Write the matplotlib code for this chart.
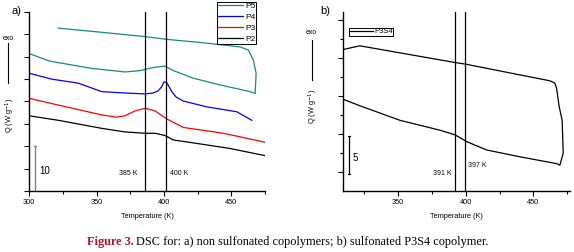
import matplotlib.pyplot as plt
from matplotlib.ticker import MultipleLocator, FixedLocator

# panel a: DSC curves of non sulfonated copolymers (Q in arbitrary offset units)
p5_t = [321.5, 352.5, 386.0, 401.6, 426.8, 456.5, 462.7, 466.4, 468.4, 467.7,
        464.0, 441.7, 421.9, 407.0, 400.8, 392.1, 382.2, 371.1, 346.4, 315.4, 300.0]
p5_q = [36.4, 35.5, 34.5, 33.9, 33.2, 32.2, 31.5, 29.2, 26.3, 21.8,
        22.2, 23.7, 25.2, 26.9, 27.9, 27.6, 26.9, 26.6, 27.4, 29.0, 30.7]
p4_t = [300.0, 316.6, 336.4, 353.8, 371.1, 386.0, 392.0, 395.8, 398.5, 400.1, 402.1,
        405.8, 409.0, 414.4, 431.8, 454.1, 465.2]
p4_q = [26.3, 25.0, 24.1, 22.2, 21.9, 21.7, 21.9, 22.4, 23.4, 24.4, 24.2,
        22.2, 21.0, 20.1, 18.8, 17.7, 15.8]
p3_t = [300.0, 321.5, 353.8, 365.0, 371.0, 378.5, 386.0, 393.4, 402.1, 414.4, 444.1, 475.0]
p3_q = [20.7, 19.2, 17.0, 16.5, 16.8, 17.9, 18.5, 17.9, 16.1, 14.2, 12.9, 10.9]
p2_t = [300.0, 321.5, 353.8, 371.1, 386.0, 393.4, 400.8, 407.0, 420.7, 449.1, 475.0]
p2_q = [16.8, 15.8, 14.0, 13.2, 12.9, 12.9, 12.4, 11.4, 10.8, 9.5, 7.9]
marks_a = [386.2, 401.5]

# panel b: sulfonated P3S4
p3s4_t = [308.9, 321.7, 392.1, 399.5, 462.1, 465.8, 467.1, 469.0, 471.2, 472.0, 469.5,
          467.1, 440.0, 415.3, 400.6, 391.9, 380.8, 351.3, 320.4, 308.9]
p3s4_q = [18.6, 19.1, 16.9, 16.7, 14.5, 14.2, 13.5, 11.1, 9.3, 5.0, 3.4,
          3.6, 4.5, 5.4, 6.5, 7.4, 8.0, 9.3, 11.3, 12.1]
marks_b = [392.0, 399.5]

W, H = 574, 252


def fx(px):
    return px / W


def fy(py):
    return 1 - py / H


plt.rcParams['font.family'] = ['Liberation Sans', 'DejaVu Sans']
fig = plt.figure(figsize=(W / 100, H / 100), dpi=100)

ax1 = fig.add_axes([fx(29.3), fy(191), (265 - 29.3) / W, 179 / H])
ax2 = fig.add_axes([fx(342.7), fy(191), (570 - 342.7) / W, 179 / H])

lw = 0.9
l5, = ax1.plot(p5_t, p5_q, color='#168a80', lw=lw)
l4, = ax1.plot(p4_t, p4_q, color='#0000ff', lw=lw)
l3, = ax1.plot(p3_t, p3_q, color='#ff0000', lw=lw)
l2, = ax1.plot(p2_t, p2_q, color='black', lw=lw)
for m in marks_a:
    ax1.axvline(m, color='black', lw=lw)
ax1.set_xlim(300, 475)
ax1.set_ylim(0, 40)
ax1.xaxis.set_major_locator(MultipleLocator(50))
ax1.xaxis.set_minor_locator(MultipleLocator(25))
ax1.yaxis.set_major_locator(MultipleLocator(5))
ax1.set_yticklabels([])
ax1.text(380, 3.8, '385 K', fontsize=5, ha='right', va='center')
ax1.text(404.5, 3.8, '400 K', fontsize=5, ha='left', va='center')
ax1.plot([304.2, 304.2], [0, 10], color='#808080', lw=1)
ax1.plot([303.4, 305.0], [10, 10], color='#808080', lw=0.8)
ax1.text(307.5, 4.5, '10', fontsize=7, ha='left', va='center')
leg1 = ax1.legend([l5, l4, l3, l2], ['P5', 'P4', 'P3', 'P2'], loc='upper left',
                  bbox_to_anchor=(fx(216.7), fy(1.5)), bbox_transform=fig.transFigure,
                  fontsize=6, frameon=True, fancybox=False, edgecolor='black',
                  framealpha=1, borderpad=0.1, labelspacing=0.38, handlelength=3.0,
                  handletextpad=0.3, borderaxespad=0)
leg1.get_frame().set_linewidth(0.7)

ax2.plot(p3s4_t, p3s4_q, color='black', lw=lw, label='P3S4')
for m in marks_b:
    ax2.axvline(m, color='black', lw=lw)
ax2.set_xlim(309, 477)
ax2.set_ylim(0, 23.55)
ax2.xaxis.set_major_locator(MultipleLocator(50))
ax2.xaxis.set_minor_locator(MultipleLocator(25))
ax2.yaxis.set_major_locator(FixedLocator([2.5, 7.5, 12.5, 17.5, 22.5]))
ax2.yaxis.set_minor_locator(FixedLocator([5, 10, 15, 20]))
ax2.set_yticklabels([])
ax2.text(389.5, 2.3, '391 K', fontsize=5, ha='right', va='center')
ax2.text(401.7, 3.3, '397 K', fontsize=5, ha='left', va='center')
ax2.plot([313.7, 313.7], [2.2, 7.2], color='black', lw=0.9)
ax2.plot([312.9, 314.5], [2.2, 2.2], color='black', lw=0.8)
ax2.plot([312.9, 314.5], [7.2, 7.2], color='black', lw=0.8)
ax2.text(316.5, 4.4, '5', fontsize=7, ha='left', va='center')
leg2 = ax2.legend(loc='upper left', bbox_to_anchor=(fx(349.3), fy(27.5)),
                  bbox_transform=fig.transFigure, fontsize=5.5, frameon=True,
                  fancybox=False, edgecolor='black', framealpha=1, borderpad=0.05,
                  handlelength=3.0, handletextpad=0.2, borderaxespad=0)
leg2.get_frame().set_linewidth(0.7)

for ax in (ax1, ax2):
    ax.spines['top'].set_visible(False)
    ax.spines['right'].set_visible(False)
    for s in ('left', 'bottom'):
        ax.spines[s].set_linewidth(1.0)
    ax.tick_params(which='major', direction='out', length=3.5, width=0.8,
                   labelsize=5.3, pad=2)
    ax.tick_params(which='minor', direction='out', length=2.2, width=0.8)
    ax.set_xlabel('Temperature (K)', fontsize=5.3, labelpad=5)

# side labels: exo arrow and Q axis title
for x0, exo_y, line_y, q_y in ((8, 38, (43, 83), 115), (311.7, 32, (40, 80), 106)):
    fig.text(fx(x0), fy(exo_y), 'exo', fontsize=5, ha='center', va='center')
    fig.add_artist(plt.Line2D([fx(x0), fx(x0)], [fy(line_y[0]), fy(line_y[1])],
                              color='black', lw=0.8))
    fig.text(fx(x0 + 2), fy(q_y), 'Q (W g$^{-1}$)', fontsize=5.3, rotation=90,
             ha='center', va='center')

fig.text(fx(16), fy(11), 'a)', fontsize=8, ha='center', va='center')
fig.text(fx(325), fy(11), 'b)', fontsize=8, ha='center', va='center')

# caption
fig.text(fx(133.5), fy(241.7), 'Figure 3.', fontsize=8.8, fontweight='bold',
         color='#b0102a', family='Liberation Serif', ha='right', va='center')
fig.text(fx(136.5), fy(241.7),
         'DSC for: a) non sulfonated copolymers; b) sulfonated P3S4 copolymer.',
         fontsize=8.8, family='Liberation Serif', ha='left', va='center')

fig.savefig('out.png', dpi=100)
